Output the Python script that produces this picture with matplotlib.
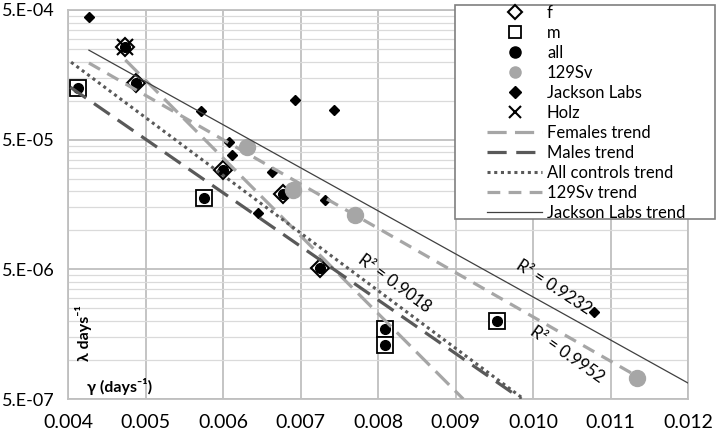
import matplotlib.pyplot as plt
from matplotlib.lines import Line2D
from matplotlib.patches import Rectangle
from matplotlib.ticker import FixedLocator, NullFormatter

plt.rcParams['font.family'] = ['Lato', 'DejaVu Sans']

# points
f_x = [0.00474, 0.00488, 0.00600, 0.00677, 0.00725]
f_y = [2.59e-4, 1.37e-4, 2.92e-5, 1.90e-5, 5.12e-6]
m_x = [0.00413, 0.00575, 0.00809, 0.00809, 0.00954]
m_y = [1.25e-4, 1.77e-5, 1.73e-6, 1.30e-6, 2.0e-6]
all_x = f_x + m_x
all_y = f_y + m_y
sv_x = [0.00631, 0.00690, 0.00770, 0.01134]
sv_y = [4.39e-5, 2.04e-5, 1.31e-5, 7.26e-7]
jax_x = [0.00427, 0.00572, 0.00693, 0.00743, 0.00608, 0.00612, 0.00663, 0.00732, 0.00645, 0.01079]
jax_y = [4.4e-4, 8.3e-5, 1.01e-4, 8.45e-5, 4.8e-5, 3.8e-5, 2.81e-5, 1.71e-5, 1.36e-5, 2.34e-6]
holz_x = [0.00474]
holz_y = [2.59e-4]

# trend lines (exponential, straight on log axis): start / end
fem_tr_x = [0.00474, 0.0091]
fem_tr_y = [2.06e-4, 5.0e-7]
male_tr_x = [0.00403, 0.00985]
male_tr_y = [1.27e-4, 5.0e-7]
all_tr_x = [0.00404, 0.00988]
all_tr_y = [1.98e-4, 5.0e-7]
sv_tr_x = [0.00427, 0.01134]
sv_tr_y = [1.95e-4, 7.5e-7]
jax_tr_x = [0.00427, 0.012]
jax_tr_y = [2.45e-4, 6.64e-7]

r2_labels = ['R² = 0.9018', 'R² = 0.9232', 'R² = 0.9952']
r2_x = [0.00821, 0.01027, 0.01044]
r2_y = [3.85e-6, 3.65e-6, 1.11e-6]
r2_rot = [-36.5, -33, -35]

xticks = [0.004, 0.005, 0.006, 0.007, 0.008, 0.009, 0.010, 0.011, 0.012]
yticks = [5e-7, 5e-6, 5e-5, 5e-4]
ylabels = ['5.E-07', '5.E-06', '5.E-05', '5.E-04']

light = '#a6a6a6'
dark = '#595959'

fig = plt.figure(figsize=(7.2, 4.34), dpi=100)
ax = fig.add_axes([68/720, 1-399/434, 620/720, 389/434])

ax.plot(f_x, f_y, 'D', ms=8.7, mfc='white', mec='black', mew=1.5, ls='none', zorder=3)
ax.plot(m_x, m_y, 's', ms=12, mfc='white', mec='black', mew=1.3, ls='none', zorder=3)
ax.plot(all_x, all_y, 'o', ms=7, color='black', ls='none', zorder=4)
ax.plot(sv_x, sv_y, 'o', ms=11.5, color=light, ls='none', zorder=5)
ax.plot(jax_x, jax_y, 'D', ms=5.5, color='black', ls='none', zorder=5)
ax.plot(holz_x, holz_y, 'x', ms=11, color='black', mew=1.5, ls='none', zorder=6)

ax.plot(fem_tr_x, fem_tr_y, color=light, lw=2.3, dashes=(6, 2.6), zorder=7)
ax.plot(male_tr_x, male_tr_y, color=dark, lw=2.3, dashes=(6, 3), zorder=7)
ax.plot(all_tr_x, all_tr_y, color=dark, lw=2.2, ls=(0, (1, 1.2)), zorder=7)
ax.plot(sv_tr_x, sv_tr_y, color=light, lw=2.3, dashes=(4, 2.6), zorder=7)
ax.plot(jax_tr_x, jax_tr_y, color='#404040', lw=0.9, zorder=7)

for lab, x, y, r in zip(r2_labels, r2_x, r2_y, r2_rot):
    ax.text(x, y, lab, rotation=r, ha='center', va='center', fontsize=12,
            rotation_mode='anchor', zorder=8)

ax.text(0.0042, 1.6e-6, 'λ days⁻¹', rotation=90, ha='center', va='center',
        fontsize=11.5, fontweight='bold', zorder=8)
ax.text(0.00467, 6.2e-7, 'γ (days⁻¹)', ha='center', va='center',
        fontsize=11.5, fontweight='bold', zorder=8)

ax.set_yscale('log')
ax.set_xlim(0.004, 0.012)
ax.set_ylim(5e-7, 5e-4)
ax.xaxis.set_major_locator(FixedLocator(xticks))
ax.set_xticklabels(['%.3f' % t for t in xticks])
ax.yaxis.set_major_locator(FixedLocator(yticks))
ax.set_yticklabels(ylabels)
minors = [k * t for t in yticks[:-1] for k in range(2, 10)]
ax.yaxis.set_minor_locator(FixedLocator(minors))
ax.yaxis.set_minor_formatter(NullFormatter())
ax.tick_params(which='both', length=0)
ax.tick_params(axis='y', pad=9.5, labelsize=13)
ax.tick_params(axis='x', pad=11, labelsize=14)
ax.grid(which='major', color='#bfbfbf', lw=1.3)
ax.grid(which='minor', axis='y', color='#dadada', lw=0.9)
ax.set_axisbelow(True)
for s in ax.spines.values():
    s.set_color('#bfbfbf')
    s.set_linewidth(1.3)

# legend with its own box
fig.add_artist(Rectangle((455/720, 1-219/434), 260/720, 214/434, transform=fig.transFigure,
                         facecolor='white', edgecolor='#7f7f7f', lw=1.2, zorder=10))
handles = [
    Line2D([], [], marker='D', ms=7, mfc='white', mec='black', mew=1.5, ls='none'),
    Line2D([], [], marker='s', ms=9, mfc='white', mec='black', mew=1.3, ls='none'),
    Line2D([], [], marker='o', ms=8, color='black', ls='none'),
    Line2D([], [], marker='o', ms=8, color=light, ls='none'),
    Line2D([], [], marker='D', ms=6, color='black', ls='none'),
    Line2D([], [], marker='x', ms=8, color='black', mew=1.5, ls='none'),
    Line2D([], [], color=light, lw=2.3, dashes=(6, 2.6)),
    Line2D([], [], color=dark, lw=2.3, dashes=(6, 3)),
    Line2D([], [], color=dark, lw=2.2, ls=(0, (1, 1.2))),
    Line2D([], [], color=light, lw=2.3, dashes=(4, 2.6)),
    Line2D([], [], color='#404040', lw=0.9),
]
labels = ['f', 'm', 'all', '129Sv', 'Jackson Labs', 'Holz', 'Females trend',
          'Males trend', 'All controls trend', '129Sv trend', 'Jackson Labs trend']
leg = fig.legend(handles, labels, loc='upper left', bbox_to_anchor=(487/720, 1-5/434),
                 frameon=False, fontsize=12, handlelength=3.3, handletextpad=0.3,
                 labelspacing=0.24, borderpad=0, borderaxespad=0)
leg.set_zorder(11)

fig.savefig('out.png', dpi=100)
